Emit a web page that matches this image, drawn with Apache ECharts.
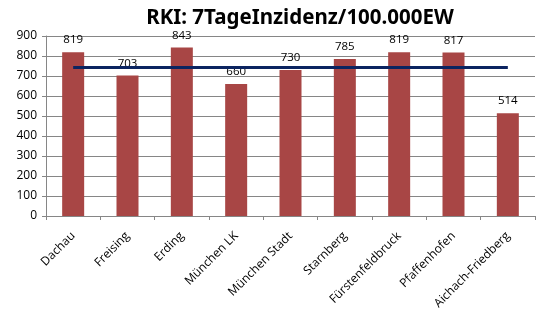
<!DOCTYPE html>
<html><head><meta charset="utf-8">
<script src="https://cdn.jsdelivr.net/npm/echarts@6/dist/echarts.min.js"></script>
<style>html,body{margin:0;padding:0;background:#fff}#c{width:538px;height:317px}</style>
</head><body><div id="c"></div>
<script>
const categories = ['Dachau','Freising','Erding','München LK','München Stadt','Starnberg','Fürstenfeldbruck','Pfaffenhofen','Aichach-Friedberg'];
const incidence = [819,703,843,660,730,785,819,817,514];
const referenceLine = [743,743,743,743,743,743,743,743,743];
const yTicks = {min:0, max:900, interval:100};
const titleText = 'RKI: 7TageInzidenz/100.000EW';

const chart = echarts.init(document.getElementById('c'), null, {renderer:'canvas'});
chart.setOption({
  animation:false,
  title:{text:titleText, left:295, top:3, textAlign:'center',
    textStyle:{fontFamily:'Noto Sans', fontWeight:'bold', fontSize:20.5, color:'#000'}},
  grid:{left:46, right:3, top:36, bottom:101, containLabel:false},
  xAxis:{type:'category', data:categories,
    axisLine:{lineStyle:{color:'#868686'}},
    axisTick:{show:true, alignWithLabel:false, length:4, lineStyle:{color:'#868686'}},
    axisLabel:{rotate:45, interval:0, fontFamily:'Open Sans', fontSize:12, color:'#000', margin:18}},
  yAxis:{type:'value', min:yTicks.min, max:yTicks.max, interval:yTicks.interval,
    axisLine:{show:true, lineStyle:{color:'#868686'}},
    axisTick:{show:true, length:4, lineStyle:{color:'#868686'}},
    splitLine:{lineStyle:{color:'#868686'}},
    axisLabel:{fontFamily:'Open Sans', fontSize:12, color:'#000', margin:9}},
  series:[
    {type:'bar', data:incidence, barWidth:22, itemStyle:{color:'#a84645'},
     label:{show:true, position:'top', distance:6, fontFamily:'Open Sans', fontSize:11.5, color:'#000'}},
    {type:'line', data:referenceLine, symbol:'none', lineStyle:{color:'#0b2460', width:3}, z:5}
  ]
});
</script></body></html>
